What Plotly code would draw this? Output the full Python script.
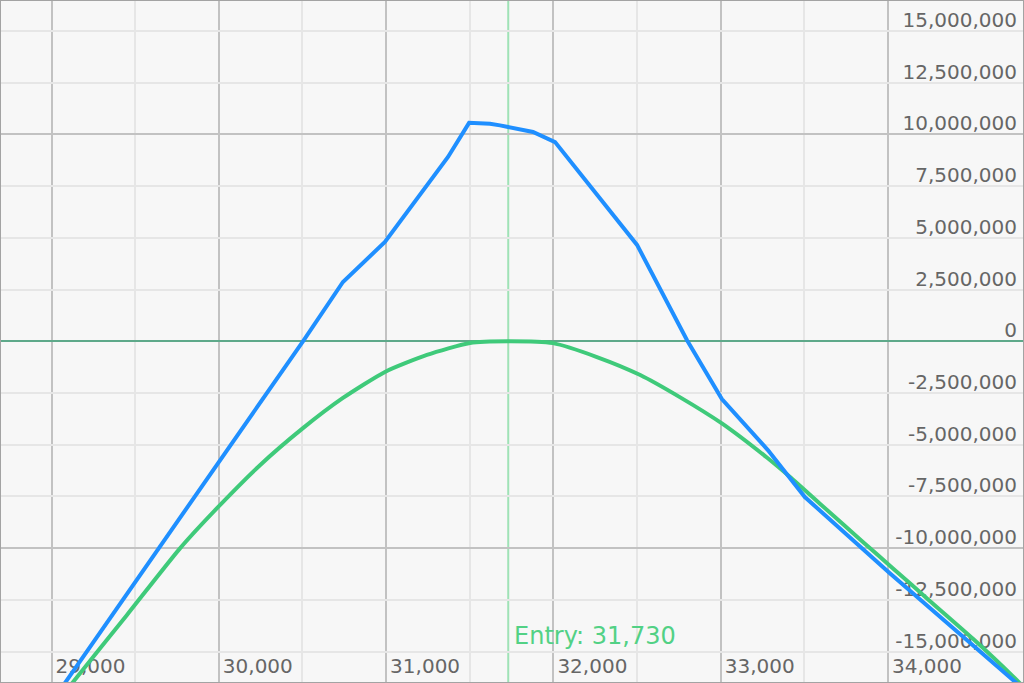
import plotly.graph_objects as go

# ---- data ----
entry_price = 31730

expiry_x = [29000, 30503, 30742, 30993, 31370, 31496, 31621, 31681, 31878, 32010,
            32500, 32798, 33007, 33282, 33503, 34011, 35000]
expiry_pnl = [-17.45e6, 0.0, 2.87e6, 4.80e6, 8.91e6, 10.56e6, 10.52e6, 10.44e6, 10.12e6, 9.63e6,
              4.66e6, 0.06e6, -2.79e6, -5.26e6, -7.53e6, -11.21e6, -18.15e6]

now_x = [29000, 29129, 29451, 29768, 29995, 30246, 30503, 30742, 30993, 31244, 31501,
         31730, 31997, 32260, 32519, 32758, 33007, 33276, 33413, 33593, 33850, 34030,
         34250, 34508, 34747, 35000]
now_pnl = [-17.77e6, -16.47e6, -13.23e6, -10.01e6, -8.02e6, -5.99e6, -4.20e6, -2.74e6,
           -1.48e6, -0.66e6, -0.08e6, 0.0, -0.09e6, -0.76e6, -1.63e6, -2.71e6, -3.97e6,
           -5.62e6, -6.55e6, -7.85e6, -9.70e6, -10.98e6, -12.55e6, -14.38e6, -16.20e6,
           -18.30e6]

x_tick_vals = [29000, 30000, 31000, 32000, 33000, 34000]
x_tick_text = ["29,000", "30,000", "31,000", "32,000", "33,000", "34,000"]

y_tick_vals = [15e6, 12.5e6, 10e6, 7.5e6, 5e6, 2.5e6, 0, -2.5e6, -5e6, -7.5e6,
               -10e6, -12.5e6, -15e6]
y_tick_text = ["15,000,000", "12,500,000", "10,000,000", "7,500,000", "5,000,000",
               "2,500,000", "0", "-2,500,000", "-5,000,000", "-7,500,000",
               "-10,000,000", "-12,500,000", "-15,000,000"]

x_range = [28692, 34813]
y_range = [-16.52e6, 16.50e6]

FONT = "DejaVu Sans"
TICK_COLOR = "#666666"
MAJOR_GRID = "#c2c2c2"
MINOR_GRID = "#e6e6e6"
GREEN = "#3fca7a"
BLUE = "#1f8fff"

fig = go.Figure()

fig.add_trace(go.Scatter(
    x=now_x, y=now_pnl, mode="lines",
    line=dict(color=GREEN, width=4, shape="spline", smoothing=0.6),
    hoverinfo="skip", showlegend=False))

fig.add_trace(go.Scatter(
    x=expiry_x, y=expiry_pnl, mode="lines",
    line=dict(color=BLUE, width=4),
    hoverinfo="skip", showlegend=False))

# invisible trace to activate the overlay axis carrying the major horizontal grid
fig.add_trace(go.Scatter(x=[x_range[0]], y=[0], yaxis="y2", mode="markers",
                         marker=dict(opacity=0), hoverinfo="skip", showlegend=False))

fig.update_layout(
    width=1024, height=683,
    margin=dict(l=0, r=0, t=0, b=0),
    paper_bgcolor="#f7f7f7",
    plot_bgcolor="#f7f7f7",
    showlegend=False,
    xaxis=dict(
        range=x_range,
        tickvals=x_tick_vals, ticktext=x_tick_text,
        ticklabelposition="inside right",
        ticks="",
        ticklabelstandoff=0,
        ticklabelshift=4,
        tickfont=dict(family=FONT, size=20, color=TICK_COLOR),
        showgrid=True, gridcolor=MAJOR_GRID, gridwidth=2,
        minor=dict(dtick=500, tick0=0, showgrid=True, gridcolor=MINOR_GRID, gridwidth=2),
        zeroline=False,
        showline=False,
        layer="below traces",
        fixedrange=True,
    ),
    yaxis=dict(
        range=y_range,
        side="right",
        tickvals=y_tick_vals, ticktext=y_tick_text,
        ticklabelposition="inside top",
        ticks="",
        ticklabelstandoff=4,
        ticklabelshift=3,
        tickfont=dict(family=FONT, size=20, color=TICK_COLOR),
        showgrid=True, gridcolor=MINOR_GRID, gridwidth=2,
        zeroline=True, zerolinecolor="#5ea98a", zerolinewidth=2,
        showline=False,
        layer="below traces",
        fixedrange=True,
    ),
    yaxis2=dict(
        range=y_range,
        overlaying="y",
        side="left",
        dtick=10e6, tick0=0,
        showticklabels=False,
        ticks="",
        showgrid=True, gridcolor=MAJOR_GRID, gridwidth=2,
        zeroline=False,
        layer="below traces",
        fixedrange=True,
    ),
    shapes=[
        dict(type="line", xref="x", yref="paper", x0=entry_price, x1=entry_price,
             y0=0, y1=1, line=dict(color="#9fe2b6", width=2), layer="below"),
        dict(type="rect", xref="paper", yref="paper", x0=0, x1=1, y0=0, y1=1,
             line=dict(color="#a3a3a3", width=2), layer="above"),
    ],
    annotations=[
        dict(x=entry_price, xref="x", y=0.069, yref="paper",
             text=f"Entry: {entry_price:,}", showarrow=False,
             xanchor="left", yanchor="middle", xshift=4,
             font=dict(family=FONT, size=24, color="#52d185")),
    ],
)

fig.write_html("out.html", config={"displayModeBar": False},
               post_script="document.body.style.margin='0';")
